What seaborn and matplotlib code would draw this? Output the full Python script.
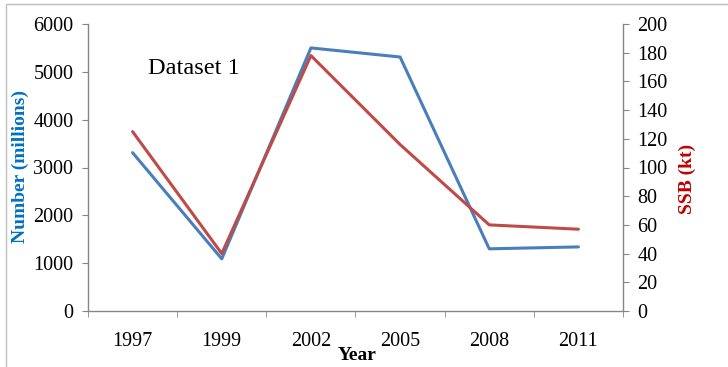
import matplotlib
matplotlib.use("Agg")
import matplotlib.pyplot as plt
import seaborn as sns
import pandas as pd
from matplotlib.patches import Rectangle

years = ["1997", "1999", "2002", "2005", "2008", "2011"]
number_millions = [3310, 1090, 5500, 5310, 1300, 1340]
ssb_kt = [125, 40, 178, 116, 60, 57]
left_ticks = [0, 1000, 2000, 3000, 4000, 5000, 6000]
right_ticks = [0, 20, 40, 60, 80, 100, 120, 140, 160, 180, 200]

sns.set_style("white")
plt.rcParams['font.family'] = ['Liberation Serif', 'DejaVu Serif']

df = pd.DataFrame({"pos": range(len(years)), "Year": years,
                   "Number": number_millions, "SSB": ssb_kt})

fig = plt.figure(figsize=(7.28, 3.67), dpi=100)
ax = fig.add_axes([88/728, 1-311/367, (623-88)/728, (311-24)/367])
ax2 = ax.twinx()

blue = "#4A7EBB"
red = "#BE4B48"
axis_grey = "#868686"

sns.lineplot(data=df, x="pos", y="Number", ax=ax, color=blue, linewidth=2.2)
sns.lineplot(data=df, x="pos", y="SSB", ax=ax2, color=red, linewidth=2.2)

ax.set_xlim(-0.5, len(years) - 0.5)
ax.set_ylim(0, 6000)
ax2.set_ylim(0, 200)

ax.set_xticks(range(len(years)))
ax.set_xticklabels(years)
ax.set_xticks([i - 0.5 for i in range(len(years) + 1)], minor=True)
ax.tick_params(axis="x", which="major", length=0, pad=15, labelsize=14.5, colors="black")
ax.tick_params(axis="x", which="minor", length=4, direction="out", color=axis_grey, bottom=True)

ax.set_yticks(left_ticks)
ax.tick_params(axis="y", which="major", length=4.5, direction="out", color=axis_grey,
               labelsize=14.5, labelcolor="black", pad=6, left=True)
ax2.set_yticks(right_ticks)
ax2.tick_params(axis="y", which="major", length=4.5, direction="out", color=axis_grey,
                labelsize=14.5, labelcolor="black", pad=6, right=True)

for a in (ax, ax2):
    a.spines["top"].set_visible(False)
    for s in ("left", "right", "bottom"):
        a.spines[s].set_color(axis_grey)
        a.spines[s].set_linewidth(1.0)
ax.spines["right"].set_visible(False)
ax2.spines["left"].set_visible(False)
ax2.spines["bottom"].set_visible(False)

ax.set_xlabel("")
ax.set_ylabel("")
ax2.set_ylabel("")

fig.text(20/728, 1-167/367, "Number (millions)", rotation=90, ha="center", va="center",
         fontsize=14, fontweight="bold", color="#0070C0")
fig.text(687/728, 1-179/367, "SSB (kt)", rotation=90, ha="center", va="center",
         fontsize=14, fontweight="bold", color="#C00000")
fig.text(357/728, 1-356/367, "Year", ha="center", va="center",
         fontsize=14, fontweight="bold", color="black")
fig.text(148/728, 1-69/367, "Dataset 1", ha="left", va="center",
         fontsize=17.5, color="black")

fig.patches.append(Rectangle((6/728, -0.01), 1.0, 1 - 4/367 + 0.01, transform=fig.transFigure,
                             fill=False, edgecolor="#BFBFBF", linewidth=1.0))

fig.savefig("out.png", dpi=100)
